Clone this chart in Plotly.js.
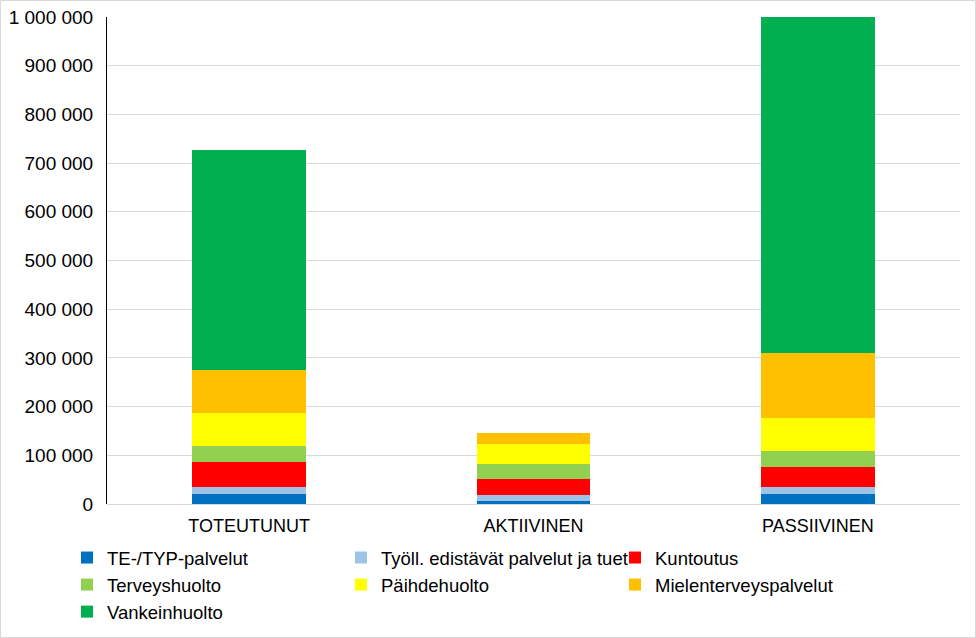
<!DOCTYPE html>
<html>
<head>
<meta charset="utf-8">
<script src="https://cdn.plot.ly/plotly-3.0.1.min.js"></script>
<style>html,body{margin:0;padding:0;background:#fff;}#chart{width:976px;height:638px;}</style>
</head>
<body>
<div id="chart"></div>
<script>
const categories = ["TOTEUTUNUT", "AKTIIVINEN", "PASSIIVINEN"];
const seriesNames = ["TE-/TYP-palvelut", "Työll. edistävät palvelut ja tuet", "Kuntoutus", "Terveyshuolto", "Päihdehuolto", "Mielenterveyspalvelut", "Vankeinhuolto"];
const tePalvelut = [20500, 6000, 20500];
const tyollPalvelut = [14500, 12500, 14500];
const kuntoutus = [51000, 33000, 41000];
const terveyshuolto = [33000, 31000, 33000];
const paihdehuolto = [68000, 41000, 68000];
const mielenterveys = [88000, 23000, 133000];
const vankeinhuolto = [452000, 0, 690000];
const colors = ["#0070C0", "#9DC3E6", "#FF0000", "#92D050", "#FFFF00", "#FFC000", "#00B050"];

const values = [tePalvelut, tyollPalvelut, kuntoutus, terveyshuolto, paihdehuolto, mielenterveys, vankeinhuolto];
const data = values.map((v, i) => ({
  type: "bar", x: categories, y: v, name: seriesNames[i],
  marker: {color: colors[i], line: {width: 0}}, width: 0.4,
  hoverinfo: "x+y+name"
}));

const L = 107, T = 17, W = 853, H = 487;
const layout = {
  width: 976, height: 638,
  margin: {l: L, r: 976 - L - W, t: T, b: 638 - T - H, pad: 0},
  barmode: "stack",
  separators: ", ",
  paper_bgcolor: "#fff", plot_bgcolor: "#fff",
  font: {family: "Liberation Sans, Arial, sans-serif", size: 18, color: "#000"},
  xaxis: {showline: false, ticks: "", tickfont: {size: 18}, ticklabelstandoff: 9, fixedrange: true},
  yaxis: {range: [0, 1000000], dtick: 100000, tickformat: ",d", showgrid: true, gridcolor: "#d9d9d9", gridwidth: 1,
          showline: true, linecolor: "#000", linewidth: 1, zeroline: true, zerolinecolor: "#d9d9d9", zerolinewidth: 1,
          ticks: "", ticklen: 0, tickfont: {size: 19}, ticklabelstandoff: 9, fixedrange: true},
  showlegend: true,
  legend: {orientation: "h", traceorder: "normal", xref: "container", yref: "container",
           x: 67 / 976, xanchor: "left", y: 1 - 539 / 638, yanchor: "top",
           entrywidth: 229, entrywidthmode: "pixels", font: {size: 18.5}, itemwidth: 30, bgcolor: "rgba(0,0,0,0)"},
  shapes: [{type: "rect", xref: "paper", yref: "paper",
            x0: (0.5 - L) / W, x1: (975.5 - L) / W, y0: (T + H - 637.5) / H, y1: (T + H - 0.5) / H,
            line: {color: "#d9d9d9", width: 1}, fillcolor: "rgba(0,0,0,0)", layer: "below"}]
};
Plotly.newPlot("chart", data, layout, {displayModeBar: false, staticPlot: true});
</script>
</body>
</html>
